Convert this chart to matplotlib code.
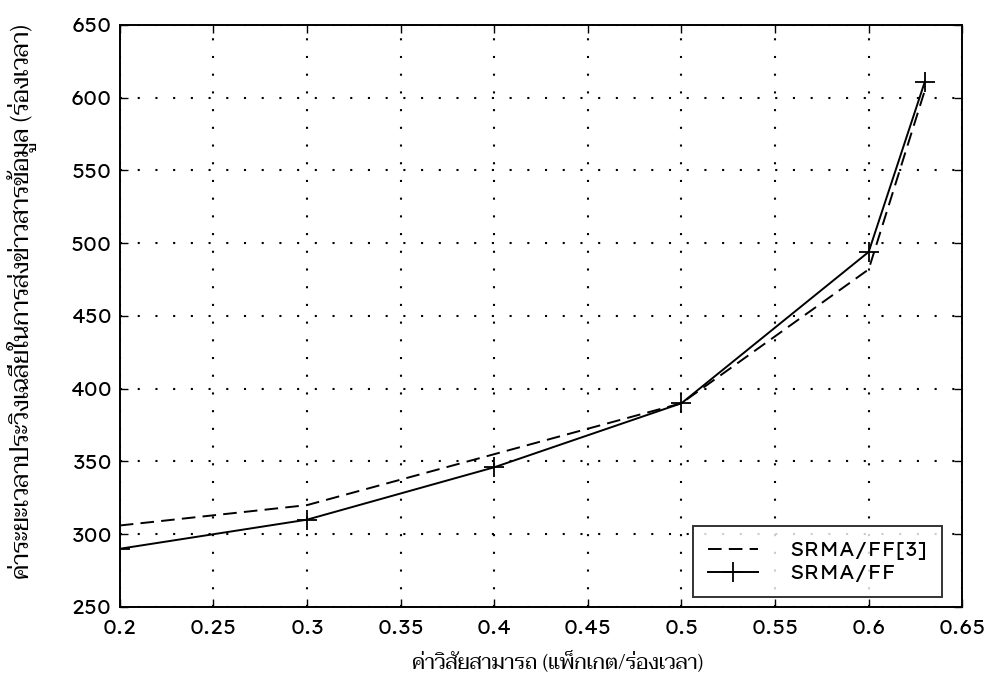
import numpy as np
import matplotlib
matplotlib.use("Agg")
import matplotlib.pyplot as plt

num_fonts = ['Lexend Exa', 'Liberation Sans', 'DejaVu Sans']
thai_fonts = ['Taviraj', 'Sarabun', 'Noto Sans Thai', 'Athiti', 'DejaVu Sans']
plt.rcParams['font.family'] = num_fonts

# throughput (packets/slot)
load = [0.2, 0.3, 0.4, 0.5, 0.6, 0.63]
# average delay (slots)
delay_ff3 = [306, 320, 355, 390, 482, 605]
delay_ff = [290, 310, 346, 390, 494, 611]

xticks = [0.2, 0.25, 0.3, 0.35, 0.4, 0.45, 0.5, 0.55, 0.6, 0.65]
xticklabels = ['0.2', '0.25', '0.3', '0.35', '0.4', '0.45', '0.5',
               '0.55', '0.6', '0.65']
yticks = [250, 300, 350, 400, 450, 500, 550, 600, 650]

fig = plt.figure(figsize=(9.9, 6.84), dpi=100)
ax = fig.add_axes([0.121, 0.1126, 0.851, 0.851])

ax.plot(load, delay_ff3, color='black', linestyle=(0, (7, 3.7)), linewidth=1.4,
        label='SRMA/FF[3]')
ax.plot(load, delay_ff, color='black', linestyle='-', linewidth=1.4,
        marker='+', markersize=15, markeredgewidth=1.3, label='SRMA/FF')

ax.set_xlim(0.2, 0.65)
ax.set_ylim(250, 650)
ax.set_xticks(xticks)
ax.set_xticklabels(xticklabels)
ax.set_yticks(yticks)
ax.tick_params(direction='in', top=True, right=True, length=6, width=1,
               labelsize=14.5)
ax.tick_params(axis='x', pad=9)
ax.tick_params(axis='y', pad=6)
ax.grid(True, color='black', linestyle=(0, (1, 7.5)), linewidth=1.5)
for s in ax.spines.values():
    s.set_linewidth(1.4)

ax.set_xlabel('ค่าวิสัยสามารถ (แพ็กเกต/ร่องเวลา)', fontsize=15,
              family=thai_fonts)
ax.xaxis.set_label_coords(0.52, -0.078)
ax.set_ylabel('ค่าระยะเวลาประวิงเฉลี่ยในการส่งข่าวสารข้อมูล (ร่องเวลา)',
              fontsize=17.5, family=thai_fonts)
ax.yaxis.set_label_coords(-0.1, 0.525)

leg = ax.legend(loc='lower right', bbox_to_anchor=(0.976, 0.017),
                fontsize=14, handlelength=2.6, frameon=True, fancybox=False,
                borderaxespad=0, labelspacing=0.2, borderpad=0.75,
                handletextpad=1.6)
leg.get_frame().set_edgecolor('black')
leg.get_frame().set_linewidth(1.4)

fig.savefig('out.png', dpi=100)
